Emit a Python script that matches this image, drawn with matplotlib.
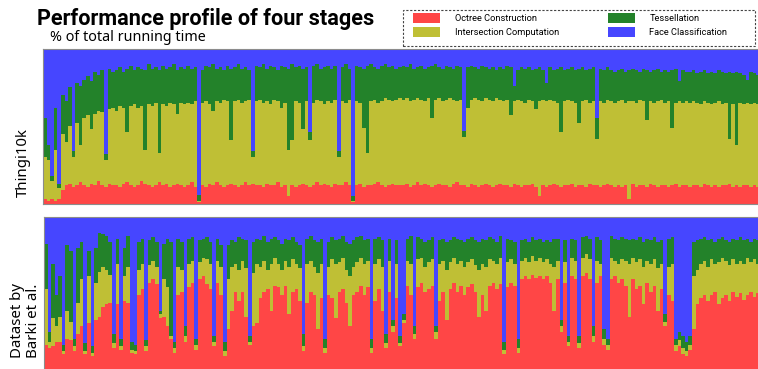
import numpy as np
import matplotlib.pyplot as plt
from matplotlib.patches import Patch, Rectangle

stages = ["Octree Construction", "Intersection Computation",
          "Tessellation", "Face Classification"]
colors = ["#FF4646", "#BFBF35", "#23822A", "#4646FF"]

# cumulative share (%) of total running time at the end of each stage,
# one entry per model (face classification fills the rest up to 100)
thingi_octree = [
    3, 2, 3, 2, 3, 9, 12, 13, 11, 12, 14, 12, 11, 13, 12, 15, 12, 11, 13, 12,
    12, 11, 13, 14, 12, 11, 12, 15, 13, 12, 11, 12, 14, 12, 13, 11, 12, 13, 12, 11,
    12, 14, 11, 1, 12, 11, 13, 12, 14, 12, 11, 12, 13, 12, 11, 12, 14, 12, 13, 12,
    12, 11, 13, 12, 12, 14, 11, 12, 5, 12, 11, 12, 13, 12, 11, 12, 14, 12, 13, 12,
    11, 13, 12, 12, 14, 12, 1, 12, 13, 11, 12, 12, 13, 14, 12, 11, 12, 13, 12, 12,
    12, 13, 11, 12, 14, 12, 13, 12, 11, 12, 13, 12, 12, 11, 13, 14, 12, 12, 11, 13,
    12, 11, 12, 13, 12, 11, 12, 13, 12, 12, 11, 13, 12, 11, 12, 12, 13, 11, 5, 12,
    11, 12, 13, 12, 11, 12, 12, 13, 11, 12, 12, 11, 13, 12, 12, 11, 12, 13, 12, 11,
    12, 11, 12, 3, 13, 11, 12, 12, 11, 13, 12, 11, 12, 12, 11, 12, 13, 11, 12, 12,
    11, 12, 12, 11, 13, 12, 11, 12, 11, 12, 12, 13, 11, 12, 11, 12, 12, 11, 12, 11,
]
thingi_inter = [
    30, 28, 15, 35, 10, 45, 40, 50, 30, 52, 38, 55, 57, 48, 58, 60, 59, 28, 61, 62,
    60, 63, 62, 46, 63, 64, 62, 63, 35, 64, 63, 65, 33, 64, 63, 65, 64, 58, 65, 64,
    65, 64, 66, 2, 65, 66, 64, 60, 66, 65, 67, 66, 41, 66, 67, 65, 66, 67, 30, 66,
    67, 65, 66, 64, 67, 66, 62, 65, 35, 41, 66, 65, 48, 66, 41, 65, 67, 66, 64, 66,
    65, 67, 30, 66, 65, 67, 2, 66, 65, 49, 33, 66, 67, 65, 66, 68, 67, 66, 67, 68,
    67, 68, 66, 67, 68, 67, 66, 68, 55, 67, 68, 66, 67, 68, 67, 66, 67, 43, 62, 67,
    68, 67, 66, 68, 67, 66, 68, 67, 66, 67, 57, 66, 67, 66, 65, 67, 66, 61, 66, 67,
    66, 67, 66, 65, 46, 66, 67, 66, 65, 52, 66, 67, 65, 66, 42, 66, 65, 67, 66, 65,
    66, 67, 65, 66, 66, 65, 67, 66, 54, 66, 65, 66, 67, 65, 66, 49, 65, 66, 65, 66,
    65, 66, 65, 64, 66, 65, 64, 65, 66, 64, 65, 42, 64, 38, 65, 64, 65, 64, 65, 64,
]
thingi_tess = [
    55, 38, 18, 62, 13, 70, 66, 75, 34, 78, 76, 80, 82, 79, 85, 83, 86, 32, 87, 85,
    86, 88, 85, 87, 89, 86, 88, 87, 86, 90, 87, 88, 86, 89, 87, 88, 90, 86, 88, 87,
    89, 87, 88, 6, 86, 89, 88, 90, 87, 88, 86, 89, 87, 88, 90, 87, 88, 86, 34, 89,
    88, 90, 87, 89, 88, 86, 89, 88, 87, 90, 88, 89, 87, 88, 46, 89, 90, 87, 88, 89,
    87, 89, 34, 88, 90, 87, 5, 89, 88, 87, 89, 90, 88, 87, 89, 90, 88, 89, 87, 88,
    89, 88, 90, 87, 88, 89, 87, 88, 89, 90, 88, 87, 89, 88, 87, 89, 88, 47, 88, 89,
    88, 87, 89, 88, 87, 88, 86, 88, 87, 89, 88, 76, 86, 88, 87, 88, 86, 87, 88, 86,
    78, 88, 86, 87, 88, 86, 87, 88, 86, 87, 88, 86, 87, 88, 55, 87, 86, 88, 86, 85,
    86, 87, 85, 86, 87, 86, 85, 87, 86, 85, 86, 87, 85, 86, 85, 86, 87, 79, 86, 85,
    85, 86, 84, 85, 86, 84, 85, 84, 86, 85, 84, 85, 84, 85, 84, 83, 80, 85, 84, 83,
]

barki_octree = [
    18, 16, 17, 20, 20, 12, 22, 21, 14, 25, 30, 12, 32, 11, 34, 36, 42, 44, 45, 16,
    44, 15, 46, 45, 13, 12, 50, 54, 14, 58, 60, 57, 35, 36, 30, 22, 13, 50, 52, 20,
    55, 58, 15, 60, 62, 57, 54, 17, 58, 50, 11, 28, 40, 52, 46, 52, 36, 18, 30, 32,
    48, 52, 54, 40, 56, 55, 50, 56, 38, 52, 54, 46, 14, 45, 52, 50, 28, 48, 13, 50,
    48, 35, 52, 54, 45, 30, 50, 52, 56, 50, 55, 13, 46, 54, 40, 16, 52, 26, 48, 17,
    32, 56, 50, 22, 55, 58, 52, 54, 56, 22, 46, 52, 34, 54, 58, 52, 56, 50, 55, 57,
    52, 36, 50, 40, 56, 58, 54, 57, 12, 55, 58, 56, 13, 60, 62, 60, 63, 61, 62, 60,
    62, 58, 40, 60, 26, 58, 17, 62, 60, 16, 62, 64, 60, 20, 58, 62, 18, 15, 60, 62,
    58, 60, 56, 36, 60, 54, 56, 44, 58, 52, 56, 40, 54, 30, 50, 46, 14, 17, 12, 11,
    15, 28, 44, 48, 50, 46, 50, 52, 44, 48, 50, 46, 52, 49, 51, 47, 50, 52, 49, 51,
]
barki_inter = [
    54, 20, 35, 30, 36, 14, 40, 33, 17, 45, 60, 14, 62, 13, 58, 65, 68, 66, 63, 19,
    70, 17, 62, 68, 15, 14, 66, 70, 17, 69, 72, 68, 38, 60, 55, 24, 16, 68, 66, 24,
    70, 72, 18, 71, 74, 73, 70, 20, 72, 68, 14, 60, 68, 70, 66, 72, 67, 20, 64, 70,
    68, 72, 66, 70, 74, 70, 66, 72, 68, 73, 70, 67, 17, 70, 72, 68, 64, 70, 16, 68,
    73, 70, 71, 74, 66, 62, 68, 71, 74, 70, 72, 16, 70, 73, 68, 19, 72, 30, 70, 19,
    34, 72, 70, 25, 73, 74, 68, 71, 73, 26, 70, 72, 66, 71, 74, 70, 72, 68, 71, 73,
    69, 66, 70, 68, 73, 72, 70, 74, 15, 71, 73, 70, 16, 72, 74, 71, 75, 72, 74, 71,
    73, 70, 68, 72, 30, 71, 20, 74, 72, 19, 74, 76, 73, 24, 72, 70, 22, 18, 74, 72,
    70, 73, 72, 70, 74, 71, 73, 68, 72, 70, 73, 67, 70, 33, 68, 70, 18, 21, 16, 14,
    18, 62, 66, 70, 72, 68, 73, 70, 71, 74, 72, 69, 73, 70, 72, 70, 74, 71, 73, 70,
]
barki_tess = [
    83, 26, 70, 50, 62, 18, 82, 78, 22, 80, 84, 19, 78, 17, 80, 90, 89, 88, 84, 25,
    86, 22, 80, 88, 20, 18, 84, 86, 21, 85, 87, 84, 40, 83, 86, 84, 20, 86, 84, 30,
    86, 87, 22, 85, 86, 87, 84, 24, 86, 82, 20, 82, 85, 84, 87, 86, 85, 24, 84, 86,
    85, 88, 84, 86, 87, 85, 83, 86, 85, 87, 84, 82, 25, 86, 88, 85, 84, 86, 22, 84,
    87, 85, 86, 88, 84, 83, 85, 87, 88, 85, 86, 22, 86, 87, 85, 25, 86, 34, 85, 24,
    38, 86, 88, 30, 87, 86, 84, 85, 87, 30, 85, 86, 84, 85, 87, 86, 85, 84, 86, 87,
    85, 84, 86, 85, 87, 86, 84, 88, 20, 86, 85, 84, 22, 85, 86, 84, 87, 85, 86, 84,
    85, 84, 86, 86, 34, 85, 24, 86, 85, 24, 87, 88, 86, 30, 87, 85, 28, 22, 88, 86,
    85, 87, 86, 85, 86, 85, 87, 84, 86, 85, 87, 84, 85, 38, 86, 87, 22, 26, 24, 20,
    24, 84, 85, 86, 87, 85, 86, 84, 86, 87, 85, 84, 86, 85, 87, 85, 86, 84, 86, 85,
]


def draw_profile(ax, octree, inter, tess):
    n = len(octree)
    edges = np.arange(n + 1) - 0.5
    levels = [np.zeros(n), np.array(octree), np.array(inter),
              np.array(tess), np.full(n, 100.0)]
    for k, c in enumerate(colors):
        ax.stairs(levels[k + 1], edges, baseline=levels[k], fill=True,
                  color=c, linewidth=0)
    ax.set_xlim(edges[0], edges[-1])
    ax.set_ylim(0, 100)
    ax.set_xticks([])
    ax.set_yticks([])
    for s in ax.spines.values():
        s.set_color("#8c8c8c")
        s.set_linewidth(0.8)


W, H = 758, 369
fig = plt.figure(figsize=(W / 100, H / 100), dpi=100)

ax1 = fig.add_axes([43 / W, 1 - 204 / H, 717 / W, 155.5 / H])
draw_profile(ax1, thingi_octree, thingi_inter, thingi_tess)

ax2 = fig.add_axes([44 / W, 1 - 373 / H, 716 / W, 156 / H])
draw_profile(ax2, barki_octree, barki_inter, barki_tess)

fig.text(37 / W, 1 - 25 / H, "Performance profile of four stages",
         fontsize=15.6, fontweight="bold", family="Roboto", va="baseline")
fig.text(50 / W, 1 - 41 / H, "% of total running time",
         fontsize=10.3, family="Noto Sans", va="baseline")

fig.text(23 / W, 1 - 197 / H, "Thingi10k", rotation=90, fontsize=10.8,
         family="Noto Sans", ha="center", va="bottom")
fig.text(25.5 / W, 1 - 358 / H, "Dataset by\nBarki et al.", rotation=90,
         fontsize=10.8, family="Noto Sans", ha="center", va="bottom",
         multialignment="left", linespacing=1.15)

# legend: entries without frame, dashed box drawn around them
handles = [Patch(facecolor=c, edgecolor="none") for c in colors]
leg = fig.legend(handles, stages, ncol=2, loc="upper left",
                 bbox_to_anchor=(413 / W, 1 - 12.5 / H),
                 frameon=False, handlelength=2.9, handleheight=1.4,
                 handletextpad=1.6, columnspacing=5.2, borderaxespad=0,
                 labelspacing=0.35, borderpad=0,
                 prop={"family": "Roboto", "size": 6.7})
fig.add_artist(Rectangle((403 / W, 1 - 46 / H), 352 / W, 36 / H,
                         transform=fig.transFigure, fill=False,
                         edgecolor="#444444", linewidth=0.8,
                         linestyle=(0, (2, 1.5))))

fig.savefig("out.png", dpi=100)
